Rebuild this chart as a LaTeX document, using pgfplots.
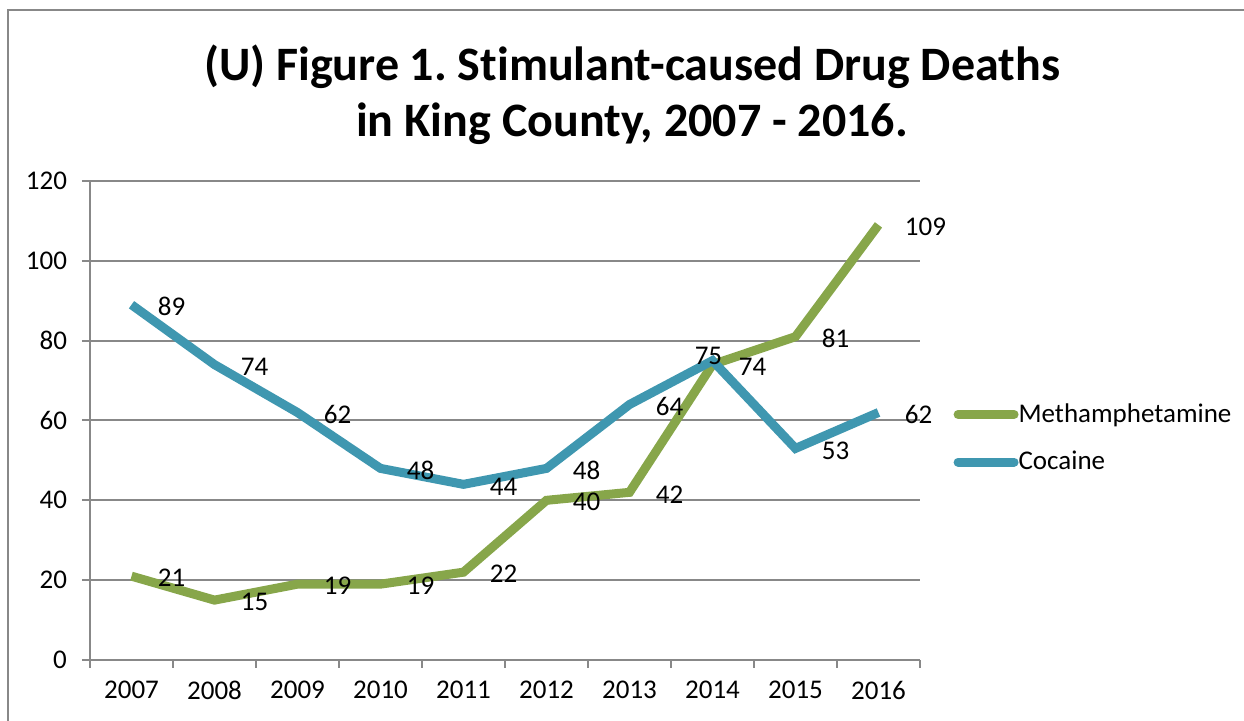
\documentclass[border=0pt]{standalone}
\usepackage{fontspec}
\setmainfont{Carlito}[Ligatures=NoCommon]
\usepackage{pgfplots}
\pgfplotsset{compat=1.18}
\frenchspacing

\definecolor{meth}{HTML}{87A64A}
\definecolor{coca}{HTML}{3F97B0}
\definecolor{gridgray}{HTML}{888888}

\begin{document}
\begin{tikzpicture}
\path[use as bounding box] (0,0) rectangle (622pt,360.5pt);
% outer chart frame (left and top edges visible)
\draw[gridgray, line width=1pt] (4pt,0) -- (4pt,355.5pt) -- (622pt,355.5pt);
\node[font=\fontsize{24}{28}\selectfont\bfseries, anchor=base] at (316pt,320pt) {(U) Figure 1. Stimulant-caused Drug Deaths};
\node[font=\fontsize{24}{28}\selectfont\bfseries, anchor=base] at (316pt,292pt) {in King County, 2007 - 2016.};
\begin{axis}[
  at={(45pt,30.5pt)}, anchor=south west,
  scale only axis, width=415pt, height=239.5pt,
  xmin=-0.5, xmax=9.5, ymin=0, ymax=120,
  xtick={-0.5,0.5,...,9.5},
  x tick label as interval,
  xticklabels={2007,2008,2009,2010,2011,2012,2013,2014,2015,2016},
  ytick={0,20,...,120},
  axis x line*=bottom, axis y line*=left,
  axis line style={gridgray, line width=1pt, -},
  tick style={gridgray, line width=1pt},
  tick align=outside, major tick length=4pt,
  ymajorgrids, grid style={gridgray, line width=1pt},
  tick label style={font=\fontsize{13.5}{16}\selectfont},
  /pgf/number format/assume math mode=true,
  xticklabel style={yshift=-3pt},
  yticklabel style={xshift=-4pt},
  clip=false,
  legend style={at={(axis description cs:1.04,0.463)}, anchor=west, draw=none, fill=none,
    font=\fontsize{13.5}{16}\selectfont, inner sep=0pt, row sep=9pt,
    /tikz/every even column/.append style={column sep=0pt},
    /tikz/every odd column/.append style={column sep=-2pt}},
  legend cell align=left,
  legend image code/.code={\draw[#1, line cap=round] (0pt,0pt) -- (28pt,0pt);},
  nodes near coords style={anchor=west, inner sep=0pt, xshift=11pt, yshift=-1pt, text=black,
    font=\fontsize{13.5}{16}\selectfont},
]
\addplot[meth, line width=4.5pt, nodes near coords] coordinates {
  (0,21) (1,15) (2,19) (3,19) (4,22) (5,40) (6,42) (7,74) (8,81) (9,109)};
\addlegendentry{Methamphetamine}
\addplot[coca, line width=4.5pt, nodes near coords, point meta=explicit symbolic] coordinates {
  (0,89) [89] (1,74) [74] (2,62) [62] (3,48) [48] (4,44) [44] (5,48) [48]
  (6,64) [64] (7,75) [] (8,53) [53] (9,62) [62]};
\addlegendentry{Cocaine}
\addplot[draw=none, forget plot, nodes near coords,
  nodes near coords style={anchor=center, xshift=-13pt, yshift=3.5pt}] coordinates {(7,75)};
\end{axis}
\end{tikzpicture}
\end{document}
